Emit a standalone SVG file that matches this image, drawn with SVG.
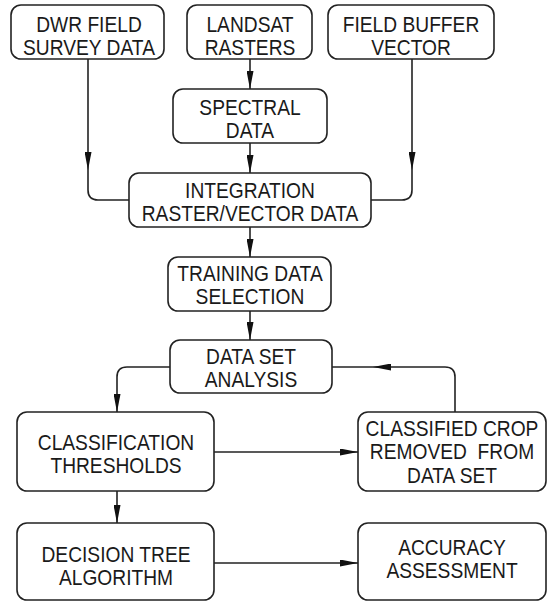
<svg xmlns="http://www.w3.org/2000/svg" width="550" height="602" viewBox="0 0 550 602">
  <style>
    .box { fill: #ffffff; stroke: #222222; stroke-width: 1.6; }
    .lbl { font-family: "Liberation Sans", Arial, sans-serif; font-size: 19.2px; fill: #1a1a1a; text-anchor: middle; white-space: pre; }
    .wire { fill: none; stroke: #222222; stroke-width: 1.6; }
    .arr { marker-end: url(#head); }
  </style>
  <defs>
    <marker id="head" viewBox="0 0 18 7" refX="18" refY="3.5" markerWidth="18" markerHeight="7" markerUnits="userSpaceOnUse" orient="auto">
      <path d="M0,0 L18,3.5 L0,7 Z" fill="#111111"/>
    </marker>
  </defs>
  <rect width="550" height="602" fill="#ffffff"/>

  <g id="connectors">
    <!-- DWR field survey -> integration -->
    <path class="wire arr" d="M88,59 V170"/>
    <path class="wire" d="M88,170 V190 Q88,200 98,200 H129"/>
    <!-- Landsat -> spectral -> integration -->
    <path class="wire arr" d="M250,59 V89"/>
    <path class="wire arr" d="M250,143 V173"/>
    <!-- Field buffer -> integration -->
    <path class="wire arr" d="M412,59 V170"/>
    <path class="wire" d="M412,170 V190 Q412,200 402,200 H371"/>
    <!-- integration -> training -> data set analysis -->
    <path class="wire arr" d="M250,227 V257"/>
    <path class="wire arr" d="M250,311 V340"/>
    <!-- data set analysis -> classification thresholds -->
    <path class="wire arr" d="M170,367 H127 Q117,367 117,377 V412"/>
    <!-- classification thresholds -> classified crop removed -->
    <path class="wire arr" d="M214,452 H358"/>
    <!-- classified crop removed -> back to data set analysis -->
    <path class="wire arr" d="M455,412 V377 Q455,367 445,367 H373"/>
    <path class="wire" d="M373,367 H332"/>
    <!-- classification thresholds -> decision tree -->
    <path class="wire arr" d="M117,491 V523"/>
    <!-- decision tree -> accuracy assessment -->
    <path class="wire arr" d="M214,563 H358"/>
  </g>

  <!-- labels are drawn with a slight vertical stretch: scale(1,1.15) -->
  <g id="dwr-survey">
    <rect class="box" x="11" y="5" width="153" height="54" rx="10"/>
    <text class="lbl" transform="translate(89,31.5) scale(1,1.15)">DWR FIELD</text>
    <text class="lbl" transform="translate(89,55) scale(1,1.15)">SURVEY DATA</text>
  </g>
  <g id="landsat">
    <rect class="box" x="187" y="5" width="125" height="54" rx="10"/>
    <text class="lbl" transform="translate(250,31.5) scale(1,1.15)">LANDSAT</text>
    <text class="lbl" transform="translate(250,55) scale(1,1.15)">RASTERS</text>
  </g>
  <g id="field-buffer">
    <rect class="box" x="328" y="5" width="166" height="54" rx="10"/>
    <text class="lbl" transform="translate(411,31.5) scale(1,1.15)">FIELD BUFFER</text>
    <text class="lbl" transform="translate(411,55) scale(1,1.15)">VECTOR</text>
  </g>
  <g id="spectral">
    <rect class="box" x="173" y="89" width="154" height="54" rx="10"/>
    <text class="lbl" transform="translate(250,115) scale(1,1.15)">SPECTRAL</text>
    <text class="lbl" transform="translate(250,138) scale(1,1.15)">DATA</text>
  </g>
  <g id="integration">
    <rect class="box" x="129" y="173" width="242" height="54" rx="10"/>
    <text class="lbl" transform="translate(250,197.5) scale(1,1.15)">INTEGRATION</text>
    <text class="lbl" transform="translate(250,221) scale(1,1.15)">RASTER/VECTOR DATA</text>
  </g>
  <g id="training">
    <rect class="box" x="168" y="257" width="163" height="54" rx="10"/>
    <text class="lbl" transform="translate(250,281) scale(1,1.15)">TRAINING DATA</text>
    <text class="lbl" transform="translate(250,304) scale(1,1.15)">SELECTION</text>
  </g>
  <g id="data-set-analysis">
    <rect class="box" x="170" y="340" width="162" height="53" rx="10"/>
    <text class="lbl" transform="translate(251,364) scale(1,1.15)">DATA SET</text>
    <text class="lbl" transform="translate(251,387) scale(1,1.15)">ANALYSIS</text>
  </g>
  <g id="classification">
    <rect class="box" x="17" y="412" width="197" height="79" rx="10"/>
    <text class="lbl" transform="translate(116,450) scale(1,1.15)">CLASSIFICATION</text>
    <text class="lbl" transform="translate(116,473) scale(1,1.15)">THRESHOLDS</text>
  </g>
  <g id="classified-crop">
    <rect class="box" x="358" y="412" width="188" height="79" rx="10"/>
    <text class="lbl" transform="translate(452,436) scale(1,1.15)">CLASSIFIED CROP</text>
    <text class="lbl" transform="translate(452,459) scale(1,1.15)">REMOVED  FROM</text>
    <text class="lbl" transform="translate(452,482.5) scale(1,1.15)">DATA SET</text>
  </g>
  <g id="decision-tree">
    <rect class="box" x="17" y="523" width="197" height="77" rx="10"/>
    <text class="lbl" transform="translate(116,561.5) scale(1,1.15)">DECISION TREE</text>
    <text class="lbl" transform="translate(116,585) scale(1,1.15)">ALGORITHM</text>
  </g>
  <g id="accuracy">
    <rect class="box" x="358" y="523" width="188" height="77" rx="10"/>
    <text class="lbl" transform="translate(452,555) scale(1,1.15)">ACCURACY</text>
    <text class="lbl" transform="translate(452,577.5) scale(1,1.15)">ASSESSMENT</text>
  </g>
</svg>
